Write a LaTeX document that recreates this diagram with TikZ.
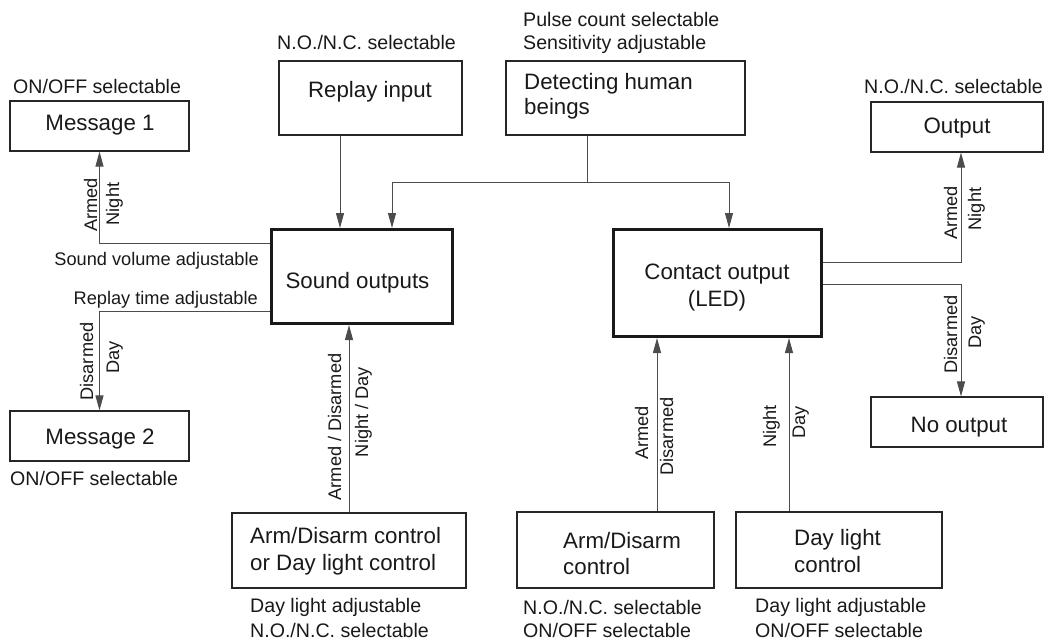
\documentclass[tikz,border=0pt]{standalone}
\usepackage{fontspec}
\setmainfont{Liberation Sans}
\usetikzlibrary{arrows.meta}
\tikzset{
  thinbox/.style={draw=black!85, line width=1.1pt, rectangle, inner sep=0pt},
  thickbox/.style={draw=black!90, line width=3.3pt, rectangle, inner sep=0pt},
  maintxt/.style={font=\fontsize{22.3}{26}\selectfont, inner sep=0pt, text=black!90},
  lbl/.style={font=\fontsize{19.6}{24}\selectfont, inner sep=0pt, text=black!90},
  slbl/.style={font=\fontsize{18.2}{22}\selectfont, inner sep=0pt, text=black!90},
  rlbl/.style={slbl, rotate=90, anchor=base},
  conn/.style={draw=black!70, line width=1pt},
  arr/.style={conn, -{Triangle[length=15pt,width=8pt]}},
}
\begin{document}
\begin{tikzpicture}[x=1pt,y=-1pt]
\useasboundingbox (0,0) rectangle (1045,642);

% boxes
\node[thinbox, minimum width=179pt, minimum height=50pt] (m1) at (99.5,126) {};
\node[thinbox, minimum width=179pt, minimum height=50pt] (m2) at (99.5,436) {};
\node[thinbox, minimum width=183pt, minimum height=74pt] (ri) at (370.5,98) {};
\node[thinbox, minimum width=239pt, minimum height=74pt] (dh) at (625.5,98) {};
\node[thickbox, minimum width=180.7pt, minimum height=93.7pt] (so) at (362,276.5) {};
\node[thickbox, minimum width=207.7pt, minimum height=106.7pt] (co) at (717.5,283) {};
\node[thinbox, minimum width=172pt, minimum height=50pt] (out) at (957,127) {};
\node[thinbox, minimum width=172pt, minimum height=50pt] (no) at (957,422) {};
\node[thinbox, minimum width=234pt, minimum height=75pt] (b1) at (349,550.5) {};
\node[thinbox, minimum width=197pt, minimum height=76pt] (b2) at (615.5,550) {};
\node[thinbox, minimum width=206pt, minimum height=76pt] (b3) at (839,550) {};

% box texts
\node[maintxt, anchor=base] (m1t) at (100,130) {Message 1};
\node[maintxt, anchor=base] (m2t) at (100,444) {Message 2};
\node[maintxt, anchor=base] (rit) at (370,98) {Replay input};
\node[maintxt, anchor=base west] (dht1) at (524,90) {Detecting human};
\node[maintxt, anchor=base west] (dht2) at (524,114) {beings};
\node[maintxt, anchor=base] (sot) at (357.5,288) {Sound outputs};
\node[maintxt, anchor=base] (cot1) at (717,279) {Contact output};
\node[maintxt, anchor=base] (cot2) at (717,306) {(LED)};
\node[maintxt, anchor=base] (outt) at (957,133) {Output};
\node[maintxt, anchor=base] (not) at (959,432) {No output};
\node[maintxt, anchor=base west] (b1t1) at (250,543) {Arm/Disarm control};
\node[maintxt, anchor=base west] (b1t2) at (250,570) {or Day light control};
\node[maintxt, anchor=base west] (b2t1) at (563,548) {Arm/Disarm};
\node[maintxt, anchor=base west] (b2t2) at (563,574) {control};
\node[maintxt, anchor=base west] (b3t1) at (794,545) {Day light};
\node[maintxt, anchor=base west] (b3t2) at (794,572) {control};

% annotation labels
\node[lbl, anchor=base west] (l1) at (13,93) {ON/OFF selectable};
\node[lbl, anchor=base west] (l2) at (10,485) {ON/OFF selectable};
\node[lbl, anchor=base west] (l3) at (277,50) {N.O./N.C. selectable};
\node[lbl, anchor=base west] (l4) at (523,27) {Pulse count selectable};
\node[lbl, anchor=base west] (l5) at (523,50) {Sensitivity adjustable};
\node[lbl, anchor=base east] (l6) at (1043,93) {N.O./N.C. selectable};
\node[slbl, anchor=base east] (l7) at (259,265) {Sound volume adjustable};
\node[slbl, anchor=base east] (l8) at (258,304) {Replay time adjustable};
\node[lbl, anchor=base west] (l9) at (250,612) {Day light adjustable};
\node[lbl, anchor=base west] (l10) at (250,637) {N.O./N.C. selectable};
\node[lbl, anchor=base west] (l11) at (523,614) {N.O./N.C. selectable};
\node[lbl, anchor=base west] (l12) at (523,637) {ON/OFF selectable};
\node[lbl, anchor=base west] (l13) at (755,612) {Day light adjustable};
\node[lbl, anchor=base west] (l14) at (755,637) {ON/OFF selectable};

% coordinates for connector routes
\coordinate (j) at (587,182);
\coordinate (jl) at (392,182);
\coordinate (jr) at (729,182);
\coordinate (xr) at (340,0);
\coordinate (y1) at (0,243);
\coordinate (y2) at (0,311);
\coordinate (xo) at (961,0);
\coordinate (yo1) at (0,262);
\coordinate (yo2) at (0,284);
\coordinate (x2) at (657,0);
\coordinate (x3) at (789,0);

% connectors
\draw[arr] (ri.south -| xr) -- (so.north -| xr);
\draw[conn] (dh.south -| j) -- (j);
\draw[arr] (j) -- (jl) -- (so.north -| jl);
\draw[arr] (j) -- (jr) -- (co.north -| jr);
\draw[arr] (so.west |- y1) -| (m1.south);
\draw[arr] (so.west |- y2) -| (m2.north);
\draw[arr] (co.east |- yo1) -| (out.south -| xo);
\draw[arr] (co.east |- yo2) -| (no.north -| xo);
\draw[arr] (b1.north) -- (so.south -| b1.north);
\draw[arr] (b2.north -| x2) -- (co.south -| x2);
\draw[arr] (b3.north -| x3) -- (co.south -| x3);

% rotated connector labels
\node[rlbl] (r1) at (97,205) {Armed};
\node[rlbl] (r2) at (119,204) {Night};
\node[rlbl] (r3) at (93,361.5) {Disarmed};
\node[rlbl] (r4) at (119,357.5) {Day};
\node[rlbl] (r5) at (341,427) {Armed / Disarmed};
\node[rlbl] (r6) at (368,412) {Night / Day};
\node[rlbl] (r7) at (648,433) {Armed};
\node[rlbl] (r8) at (673,436.5) {Disarmed};
\node[rlbl] (r9) at (776,426.5) {Night};
\node[rlbl] (r10) at (805,422.5) {Day};
\node[rlbl] (r11) at (957,213) {Armed};
\node[rlbl] (r12) at (981,209) {Night};
\node[rlbl] (r13) at (957,334.5) {Disarmed};
\node[rlbl] (r14) at (981,332.5) {Day};
\end{tikzpicture}
\end{document}
